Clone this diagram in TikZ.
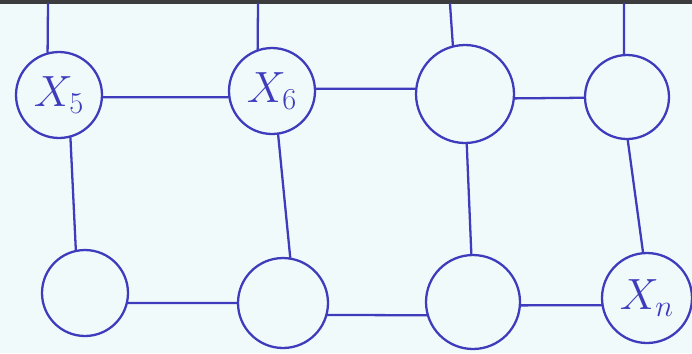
\documentclass[tikz,border=0pt]{standalone}
\usepackage{tikz}
\usepackage{xcolor}
\usetikzlibrary{positioning, calc}
\definecolor{inkblue}{RGB}{62, 60, 188}
\definecolor{paper}{RGB}{240, 250, 251}
\definecolor{bargray}{RGB}{60, 60, 62}
\tikzstyle{var} = [circle, draw=inkblue, line width=1.3pt, minimum size=1.72cm, inner sep=0pt, text=inkblue, font=\fontsize{26}{28}\selectfont]
\tikzstyle{edge} = [draw=inkblue, line width=1.3pt, line cap=round]

\begin{document}
\begin{tikzpicture}[x=0.02cm, y=-0.02cm]
      \fill[paper] (0,0) rectangle (692,353);
      \fill[bargray] (0,0) rectangle (692,4);
      \useasboundingbox (0,0) rectangle (692,353);

      % upper chain
      \node[var] (x5) at (59,95) {$X_5$};
      \node[var] (x6) at (272,91) {$X_6$};
      \node[var, minimum size=1.96cm] (x7) at (465,94) {};
      \node[var, minimum size=1.68cm] (x8) at (627,97) {};

      % lower chain
      \node[var] (y1) at (85,293) {};
      \node[var, minimum size=1.8cm] (y2) at (283,303) {};
      \node[var, minimum size=1.88cm] (y3) at (473,302) {};
      \node[var, minimum size=1.8cm] (xn) at (647,298) {$X_n$};

      \coordinate (t5) at (48,4);
      \coordinate (t6) at (258,4);
      \coordinate (t7) at (450,4);
      \coordinate (t8) at (624,4);

      \draw[edge] (t5) -- (x5.105);
      \draw[edge] (t6) -- (x6.109);
      \draw[edge] (t7) -- (x7.104);
      \draw[edge] (t8) -- (x8.94);

      \draw[edge] (x5.-3) -- (x6.188);
      \draw[edge] (x6.3) -- (x7.174);
      \draw[edge] (x7.-5) -- (x8.181);

      \draw[edge] (y1.-13) -- (y2.180);
      \draw[edge] (y2.-15) -- (y3.196);
      \draw[edge] (y3.-4) -- (xn.189);

      \draw[edge] (x5.-75) -- (y1.102);
      \draw[edge] (x6.-82) -- (y2.81);
      \draw[edge] (x7.-88) -- (y3.92);
      \draw[edge] (x8.-89) -- (xn.95);
\end{tikzpicture}
\end{document}
